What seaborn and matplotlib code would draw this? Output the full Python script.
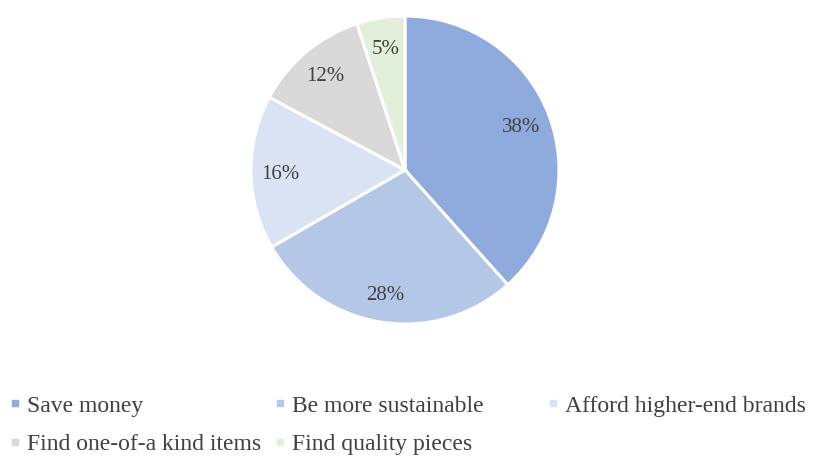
import matplotlib
matplotlib.use("Agg")
import matplotlib.pyplot as plt
from matplotlib.lines import Line2D
import seaborn as sns

categories = ["Save money", "Be more sustainable", "Afford higher-end brands",
              "Find one-of-a kind items", "Find quality pieces"]
shares = [38, 28, 16, 12, 5]
colors = ["#8FAADC", "#B4C7E7", "#DAE3F3", "#D9D9D9", "#E2F0D9"]

sns.set_theme(style="white")
plt.rcParams["font.family"] = ["Liberation Serif", "DejaVu Serif"]
text_color = "#404040"

W, H = 813, 459
fig = plt.figure(figsize=(W / 100, H / 100), dpi=100)
fig.patch.set_facecolor("white")

cx, cy, r = 405, 170, 154
ax = fig.add_axes([(cx - r) / W, (H - cy - r) / H, 2 * r / W, 2 * r / H])
total = sum(shares)
_, _, pct_texts = ax.pie(shares, colors=colors, startangle=90, counterclock=False, radius=1,
                         autopct=lambda p: f"{p * total / 100:.0f}%", pctdistance=0.81,
                         wedgeprops=dict(edgecolor="white", linewidth=2.2),
                         textprops=dict(color=text_color, fontsize=15))
for t in pct_texts:
    t.set_va("center_baseline")
ax.set_xlim(-1, 1)
ax.set_ylim(-1, 1)
ax.set_aspect("equal")
ax.axis("off")

# Legend laid out in three fixed-width columns
columns = [[0, 3], [1, 4], [2]]
col_x = [8.6, 274, 546.6]
for idx, xpx in zip(columns, col_x):
    handles = [Line2D([], [], linestyle="none", marker="s", markersize=5,
                      markerfacecolor=colors[i], markeredgecolor=colors[i]) for i in idx]
    fig.legend(handles, [categories[i] for i in idx], loc="upper left",
               bbox_to_anchor=(xpx / W, 1 - 395 / H), frameon=False,
               fontsize=17, labelcolor=text_color, handlelength=0.5,
               handletextpad=0.28, labelspacing=0.72, borderpad=0, borderaxespad=0)

fig.savefig("out.png", dpi=100, facecolor="white")
